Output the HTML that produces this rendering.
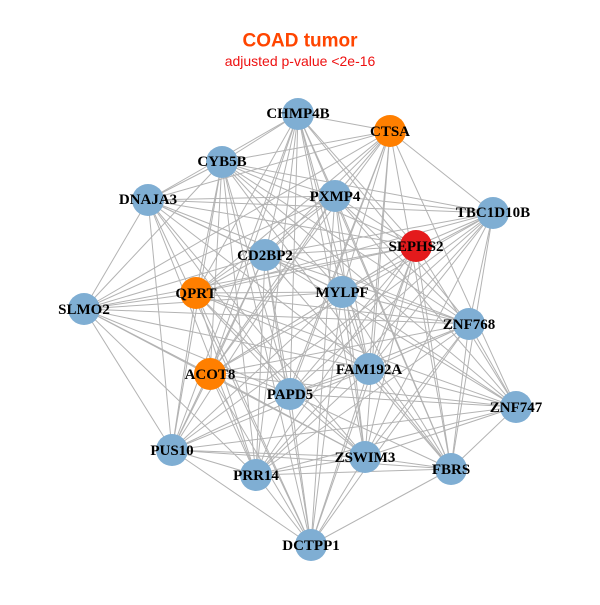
<!DOCTYPE html>
<html><head><meta charset="utf-8"><style>
body{margin:0;background:#fff;width:600px;height:600px;overflow:hidden}
svg text{font-family:"Liberation Serif",serif;font-weight:bold;font-size:15px;text-anchor:middle;dominant-baseline:central}
</style></head><body>
<svg id="s" width="600" height="600" xmlns="http://www.w3.org/2000/svg">
<text x="300" y="41" style="font-family:'Liberation Sans',sans-serif;font-size:19px;fill:#FF4500">COAD tumor</text>
<text x="300" y="61" style="font-family:'Liberation Sans',sans-serif;font-weight:normal;font-size:14px;fill:#EE1111">adjusted p-value &lt;2e-16</text>
<g id="e" stroke="#b3b3b3" stroke-width="1"></g>
<g id="n"></g>
<g id="l">
<text x="298" y="114">CHMP4B</text>
<text x="390" y="132">CTSA</text>
<text x="222" y="162">CYB5B</text>
<text x="148" y="200">DNAJA3</text>
<text x="335" y="197">PXMP4</text>
<text x="493" y="213">TBC1D10B</text>
<text x="416" y="247">SEPHS2</text>
<text x="265" y="256">CD2BP2</text>
<text x="196" y="294">QPRT</text>
<text x="342" y="293">MYLPF</text>
<text x="84" y="310">SLMO2</text>
<text x="469" y="325">ZNF768</text>
<text x="369" y="370">FAM192A</text>
<text x="210" y="375">ACOT8</text>
<text x="290" y="395">PAPD5</text>
<text x="516" y="408">ZNF747</text>
<text x="172" y="451">PUS10</text>
<text x="365" y="458">ZSWIM3</text>
<text x="451" y="470">FBRS</text>
<text x="256" y="476">PRR14</text>
<text x="311" y="546">DCTPP1</text>
</g>
</svg>
<script>
var N=[[298,114,0],[390,131,1],[222,162,0],[148,200,0],[335,196,0],[493,213,0],[416,246,2],[265,255,0],[196,293,1],[342,292,0],[84,309,0],[469,324,0],[369,369,0],[210,374,1],[290,394,0],[516,407,0],[172,450,0],[365,457,0],[451,469,0],[256,475,0],[311,545,0]];
var C=["#7FAED3","#FF7F00","#E41A1C"],ns="http://www.w3.org/2000/svg";
var e=document.getElementById("e"),g=document.getElementById("n");
for(var i=0;i<N.length;i++)for(var j=i+1;j<N.length;j++){var dx=N[i][0]-N[j][0],dy=N[i][1]-N[j][1];if(Math.sqrt(dx*dx+dy*dy)<400&&(i*7+j*3)%5!=0){var l=document.createElementNS(ns,"line");l.setAttribute("x1",N[i][0]);l.setAttribute("y1",N[i][1]);l.setAttribute("x2",N[j][0]);l.setAttribute("y2",N[j][1]);e.appendChild(l);}}
N.forEach(function(p){var c=document.createElementNS(ns,"circle");c.setAttribute("cx",p[0]);c.setAttribute("cy",p[1]);c.setAttribute("r",16);c.setAttribute("fill",C[p[2]]);g.appendChild(c);});
</script>
</body></html>
